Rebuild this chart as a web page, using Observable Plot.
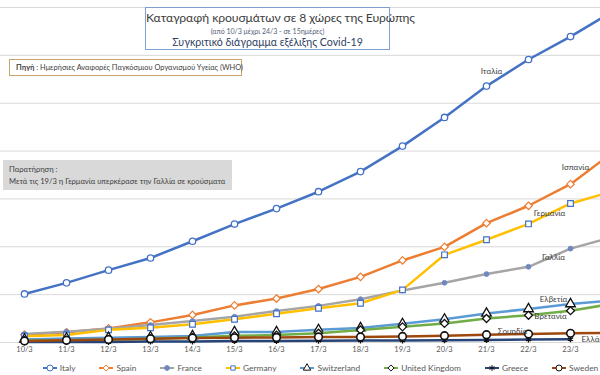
<!DOCTYPE html>
<html>
<head>
<meta charset="utf-8">
<script src="https://cdn.jsdelivr.net/npm/d3@7"></script>
<script src="https://cdn.jsdelivr.net/npm/@observablehq/plot@0.6"></script>
<style>
  html, body { margin: 0; padding: 0; background: #fff; overflow: hidden; }
  #wrap { position: relative; width: 600px; height: 375px; overflow: hidden; font-family: Lato, "Noto Sans", sans-serif; }
  #chart { position: absolute; left: 0; top: 0; width: 640px; }
  #chart svg { max-width: none !important; }
  .box { position: absolute; box-sizing: border-box; }
  #titlebox { left: 145px; top: 7px; width: 245px; height: 43px; border: 1px solid #7f9fd0; background: #fff; text-align: center; color: #404040; white-space: nowrap; }
  #titlebox .t1 { position: absolute; left: 0; right: 0; top: 2px; font-size: 12.2px; letter-spacing: -0.1px; }
  #titlebox .t2 { position: absolute; left: 0; right: 0; top: 19px; font-size: 7px; color: #55607a; }
  #titlebox .t3 { position: absolute; left: 0; right: 0; top: 28px; font-size: 10.6px; color: #2f3f5f; }
  #srcbox { left: 9px; top: 59px; width: 233px; height: 17px; border: 1px solid #c9a46b; background: #fff; font-size: 7.4px; color: #404040; padding: 3px 0 0 6px; white-space: nowrap; }
  #notebox { left: 3px; top: 160px; width: 229px; height: 30px; background: #d9d9d9; font-size: 7.6px; color: #404040; padding: 4px 0 0 6px; line-height: 11.5px; white-space: nowrap; }
  #legend { position: absolute; left: 0; top: 361px; width: 640px; height: 13px; display: flex; justify-content: center; align-items: center; font-size: 8.4px; color: #595959; }
  .li { display: flex; align-items: center; margin: 0 11.5px; white-space: nowrap; }
  .li svg { margin-right: 2px; }
</style>
</head>
<body>
<div id="wrap">
  <div id="chart"></div>
  <div class="box" id="titlebox">
    <div class="t1">Καταγραφή κρουσμάτων σε 8 χώρες της Ευρώπης</div>
    <div class="t2">(από 10/3 μέχρι 24/3 - σε 15ημέρες)</div>
    <div class="t3">Συγκριτικό διάγραμμα εξέλιξης Covid-19</div>
  </div>
  <div class="box" id="srcbox"><b>Πηγή</b> : Ημερήσιες Αναφορές Παγκόσμιου Οργανισμού Υγείας (WHO)</div>
  <div class="box" id="notebox">Παρατήρηση :<br>Μετά τις 19/3 η Γερμανία υπερκέρασε την Γαλλία σε κρούσματα</div>
  <div id="legend"></div>
</div>
<script>
// ---- data ----
const dates = ["10/3","11/3","12/3","13/3","14/3","15/3","16/3","17/3","18/3","19/3","20/3","21/3","22/3","23/3","24/3"];
const seriesNames = ["Italy","Spain","France","Germany","Switzerland","United Kingdom","Greece","Sweden"];
const greekLabels = ["Ιταλία","Ισπανία","Γαλλία","Γερμανία","Ελβετία","Βρετανία","Ελλάδα","Σουηδία"];
const italy       = [10149,12462,15113,17660,21157,24747,27980,31506,35713,41035,47021,53578,59138,63927,69176];
const spain       = [1639,2140,2950,4209,5753,7753,9191,11178,13716,17147,19980,24926,28572,33089,39673];
const france      = [1784,2269,2860,3640,4469,5380,6573,7652,9043,10871,12475,14296,15821,19615,22025];
const germany     = [1296,1567,2640,3062,3795,4838,6012,7156,8198,10999,18323,21463,24774,29056,31554];
const switzerland = [652,858,1000,1125,1359,2200,2200,2650,3028,3900,4840,6077,7014,8060,8795];
const uk          = [373,456,590,797,1061,1391,1543,1950,2626,3269,3983,5018,5683,6650,8077];
const greece      = [89,99,117,190,228,331,331,387,418,418,495,530,624,695];
const sweden      = [326,461,620,775,924,992,1059,1167,1167,1279,1423,1639,1763,1934,2016];
const gridValues  = [0,10000,20000,30000,40000,50000,60000,70000];

const allValues = [italy, spain, france, germany, switzerland, uk, greece, sweden];

// ---- styles ----
const styles = [
  {color:"#4472c4", symbol:"circle",   r:3.2, fill:"#fff", stroke:"#4472c4", sw:1.3},
  {color:"#ed7d31", symbol:"diamond2", r:3.4, fill:"#fff", stroke:"#ed7d31", sw:1.2},
  {color:"#a5a5a5", symbol:"circle",   r:2.4, fill:"#6f88c0", stroke:"#6f88c0", sw:1},
  {color:"#ffc000", symbol:"square",   r:3.2, fill:"#fff", stroke:"#4472c4", sw:1.2},
  {color:"#5b9bd5", symbol:"triangle", r:3.6, fill:"#fff", stroke:"#111", sw:1.3},
  {color:"#70ad47", symbol:"diamond2", r:3.6, fill:"#fff", stroke:"#111", sw:1.3},
  {color:"#264478", symbol:"asterisk", r:2.8, fill:"none", stroke:"#111", sw:1.4},
  {color:"#9e480e", symbol:"circle",   r:3.8, fill:"#fff", stroke:"#111", sw:1.6}
];
// label anchor (date index) and offsets
const labelPlacement = {
  "Italy":         {i:11, dx:5,   dy:-15, anchor:"middle"},
  "Spain":         {i:13, dx:5,   dy:-17, anchor:"middle"},
  "France":        {i:13, dx:-17, dy:9,   anchor:"middle"},
  "Germany":       {i:12, dx:21,  dy:-11, anchor:"middle"},
  "Switzerland":   {i:13, dx:-17, dy:-4,  anchor:"middle"},
  "United Kingdom":{i:13, dx:-20, dy:6,   anchor:"middle"},
  "Greece":        {i:13, dx:11,  dy:0,   anchor:"start"},
  "Sweden":        {i:12, dx:-16, dy:-3,  anchor:"middle"}
};

const rows = seriesNames.map((name, k) =>
  allValues[k].map((v, i) => ({name, date: dates[i], value: v}))
);

const marks = [Plot.ruleY(gridValues, {stroke:"#d9d9d9", strokeWidth:1})];
rows.forEach((data, k) => {
  const s = styles[k];
  marks.push(Plot.line(data, {x:"date", y:"value", stroke:s.color, strokeWidth:2.5, curve:"linear"}));
  marks.push(Plot.dot(data, {x:"date", y:"value", symbol:s.symbol, r:s.r, fill:s.fill, stroke:s.stroke, strokeWidth:s.sw}));
});
rows.forEach((data, k) => {
  const p = labelPlacement[seriesNames[k]];
  const d = data[p.i];
  marks.push(Plot.text([{...d, label: greekLabels[k]}], {
    x:"date", y:"value", text:"label", dx:p.dx, dy:p.dy, textAnchor:p.anchor,
    fill:"#404040", fontSize:8, fontFamily:"Lato, sans-serif"
  }));
});

const chart = Plot.plot({
  width: 640,
  height: 360,
  marginLeft: 0,
  marginRight: 0,
  marginTop: 7,
  marginBottom: 18,
  style: {background:"transparent", fontFamily:"Lato, sans-serif", maxWidth:"none"},
  x: {type:"point", domain: dates, range:[19, 617], padding:0, align:0.5, label:null, tickSize:0, tickPadding:4},
  y: {domain:[0,70000], axis:null},
  marks: [
    ...marks,
    Plot.axisX({tickSize:0, tickPadding:4, fontSize:7.5, color:"#595959", label:null})
  ]
});
chart.style.maxWidth = "none";
document.getElementById("chart").appendChild(chart);

// ---- legend ----
const legend = d3.select("#legend");
seriesNames.forEach((name, k) => {
  const s = styles[k];
  const item = legend.append("div").attr("class","li");
  const svg = item.append("svg").attr("width",16).attr("height",10);
  svg.append("line").attr("x1",1).attr("x2",15).attr("y1",5).attr("y2",5)
     .attr("stroke", s.color).attr("stroke-width",2);
  const symMap = {circle:d3.symbolCircle, diamond2:d3.symbolDiamond2, square:d3.symbolSquare2 || d3.symbolSquare, triangle:d3.symbolTriangle, asterisk:d3.symbolAsterisk};
  const sym = symMap[s.symbol] || d3.symbolCircle;
  const sz = s.symbol === "circle" ? Math.PI * Math.pow(Math.min(s.r,3),2) : 24;
  svg.append("path").attr("d", d3.symbol(sym, sz)()).attr("transform","translate(8,5)")
     .attr("fill", s.fill).attr("stroke", s.stroke).attr("stroke-width",1);
  item.append("span").text(name);
});
</script>
</body>
</html>
